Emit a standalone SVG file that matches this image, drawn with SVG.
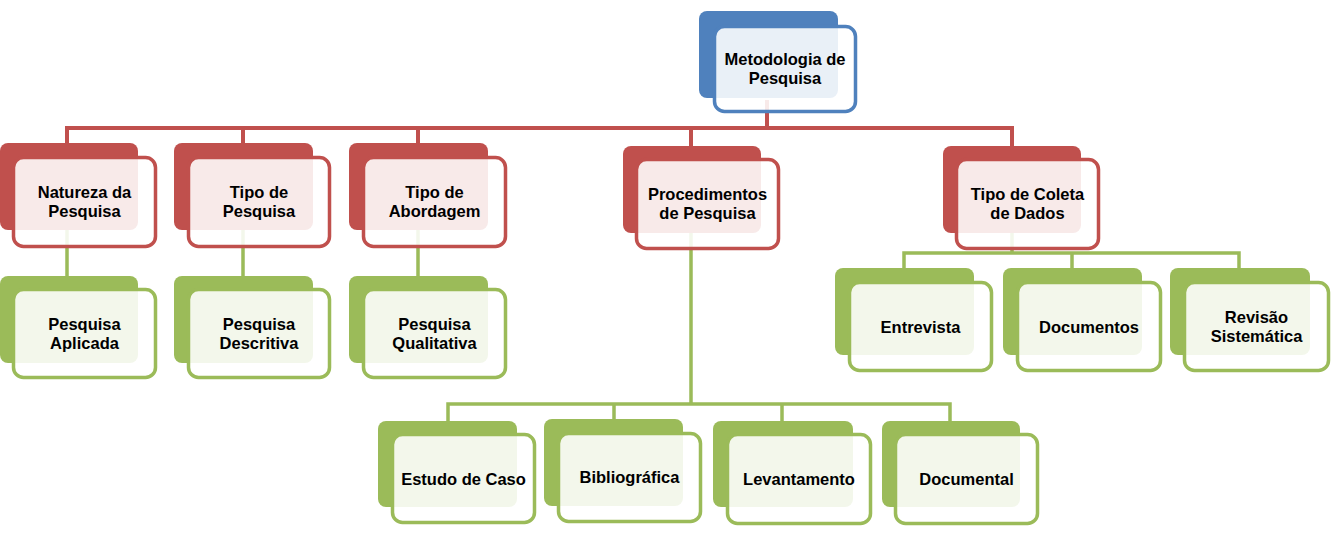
<svg xmlns="http://www.w3.org/2000/svg" width="1334" height="544" viewBox="0 0 1334 544">
<style>
text{font-family:"Liberation Sans",Arial,sans-serif;font-weight:bold;font-size:16.5px;fill:#000;text-anchor:middle}
.bb{fill:#4F81BD}.fb{fill:#fff;fill-opacity:0.88;stroke:#4F81BD;stroke-width:3.5}
.br{fill:#C0504D}.fr{fill:#fff;fill-opacity:0.88;stroke:#C0504D;stroke-width:3.5}
.bg{fill:#9BBB59}.fg{fill:#fff;fill-opacity:0.88;stroke:#9BBB59;stroke-width:3.5}
.cr{fill:none;stroke:#C0504D;stroke-width:4}
.cg{fill:none;stroke:#9BBB59;stroke-width:3.5}
</style>
<rect width="1334" height="544" fill="#fff"/>
<g id="connectors">
<path class="cr" d="M767,100V128M67,143V128H1012V146M243,128V143M418,128V143M691,128V146"/>
<path class="cg" d="M67,230V276M243,230V276M418,230V276"/>
<path class="cg" d="M691,233V404M448,421V404H950V421M614,404V419M782,404V421"/>
<path class="cg" d="M1012,233V253M904,268V253H1239V268M1072,253V268"/>
</g>
<g id="n-metodologia">
<rect class="bb" x="699" y="11" width="139" height="87" rx="8"/>
<rect class="fb" x="714.5" y="26.5" width="141" height="85" rx="10"/>
<text x="785" y="65">Metodologia de</text><text x="785" y="84">Pesquisa</text>
</g>
<g id="n-natureza">
<rect class="br" x="0" y="143" width="138" height="87" rx="8"/>
<rect class="fr" x="13.5" y="157.5" width="142" height="89" rx="10"/>
<text x="84.5" y="198">Natureza da</text><text x="84.5" y="217">Pesquisa</text>
</g>
<g id="n-tipo-pesquisa">
<rect class="br" x="174" y="143" width="139" height="87" rx="8"/>
<rect class="fr" x="188.5" y="157.5" width="141" height="89" rx="10"/>
<text x="259" y="198">Tipo de</text><text x="259" y="217">Pesquisa</text>
</g>
<g id="n-tipo-abordagem">
<rect class="br" x="349" y="143" width="139" height="87" rx="8"/>
<rect class="fr" x="363.5" y="157.5" width="142" height="89" rx="10"/>
<text x="434.5" y="198">Tipo de</text><text x="434.5" y="217">Abordagem</text>
</g>
<g id="n-procedimentos">
<rect class="br" x="623" y="146" width="138" height="87" rx="8"/>
<rect class="fr" x="636.5" y="159.5" width="142" height="89" rx="10"/>
<text x="707.5" y="200">Procedimentos</text><text x="707.5" y="219">de Pesquisa</text>
</g>
<g id="n-coleta">
<rect class="br" x="943" y="146" width="138" height="87" rx="8"/>
<rect class="fr" x="956.5" y="159.5" width="142" height="89" rx="10"/>
<text x="1027.5" y="200">Tipo de Coleta</text><text x="1027.5" y="219">de Dados</text>
</g>
<g id="n-aplicada">
<rect class="bg" x="0" y="276" width="138" height="87" rx="8"/>
<rect class="fg" x="13.5" y="289.5" width="142" height="88" rx="10"/>
<text x="84.5" y="329.5">Pesquisa</text><text x="84.5" y="348.5">Aplicada</text>
</g>
<g id="n-descritiva">
<rect class="bg" x="174" y="276" width="139" height="87" rx="8"/>
<rect class="fg" x="188.5" y="289.5" width="141" height="88" rx="10"/>
<text x="259" y="329.5">Pesquisa</text><text x="259" y="348.5">Descritiva</text>
</g>
<g id="n-qualitativa">
<rect class="bg" x="349" y="276" width="139" height="87" rx="8"/>
<rect class="fg" x="363.5" y="289.5" width="142" height="88" rx="10"/>
<text x="434.5" y="329.5">Pesquisa</text><text x="434.5" y="348.5">Qualitativa</text>
</g>
<g id="n-entrevista">
<rect class="bg" x="835" y="268" width="139" height="87" rx="8"/>
<rect class="fg" x="849.5" y="282.5" width="142" height="88" rx="10"/>
<text x="920.5" y="332.5">Entrevista</text>
</g>
<g id="n-documentos">
<rect class="bg" x="1003" y="268" width="139" height="87" rx="8"/>
<rect class="fg" x="1017.5" y="282.5" width="143" height="88" rx="10"/>
<text x="1089" y="332.5">Documentos</text>
</g>
<g id="n-revisao">
<rect class="bg" x="1170" y="268" width="140" height="87" rx="8"/>
<rect class="fg" x="1184.5" y="282.5" width="144" height="88" rx="10"/>
<text x="1256.5" y="322.5">Revisão</text><text x="1256.5" y="341.5">Sistemática</text>
</g>
<g id="n-estudo">
<rect class="bg" x="378" y="421" width="139" height="86" rx="8"/>
<rect class="fg" x="392.5" y="434.5" width="142" height="88" rx="10"/>
<text x="463.5" y="484.5">Estudo de Caso</text>
</g>
<g id="n-bibliografica">
<rect class="bg" x="544" y="419" width="139" height="87" rx="8"/>
<rect class="fg" x="558.5" y="433.5" width="142" height="88" rx="10"/>
<text x="629.5" y="483">Bibliográfica</text>
</g>
<g id="n-levantamento">
<rect class="bg" x="713" y="421" width="140" height="86" rx="8"/>
<rect class="fg" x="727.5" y="434.5" width="143" height="89" rx="10"/>
<text x="799" y="485">Levantamento</text>
</g>
<g id="n-documental">
<rect class="bg" x="882" y="421" width="138" height="86" rx="8"/>
<rect class="fg" x="895.5" y="434.5" width="142" height="89" rx="10"/>
<text x="966.5" y="485">Documental</text>
</g>
</svg>
